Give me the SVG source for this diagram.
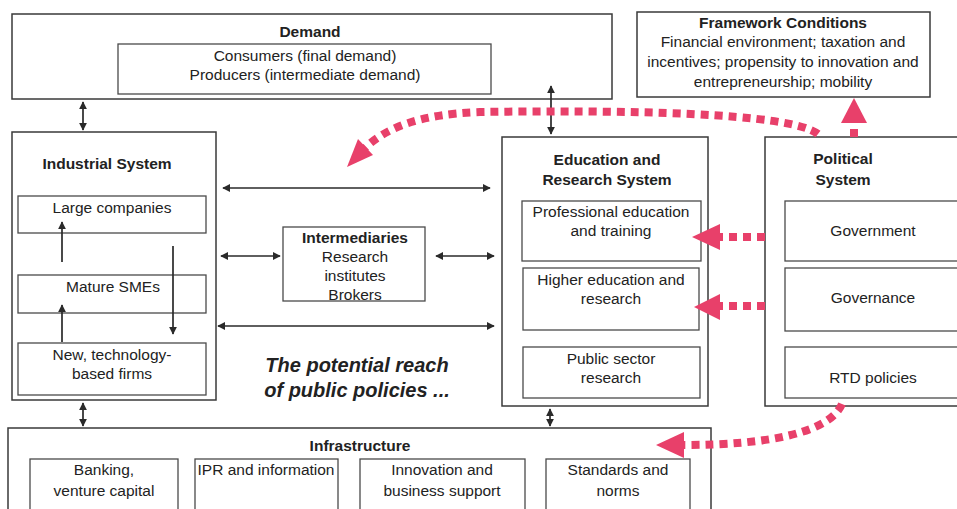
<svg xmlns="http://www.w3.org/2000/svg" width="957" height="509" viewBox="0 0 957 509">
  <style>
    .box { fill: #fff; stroke: #3a3a3a; stroke-width: 1.5; }
    .sub { fill: #fff; stroke: #4a4a4a; stroke-width: 1.3; }
    text { font-family: "Liberation Sans", Arial, sans-serif; font-size: 15.5px; fill: #222; text-anchor: middle; }
    .b { font-weight: bold; }
    .tag { font-weight: bold; font-style: italic; font-size: 20px; }
    .link { stroke: #2a2a2a; stroke-width: 1.7; fill: none; marker-start: url(#ah); marker-end: url(#ah); }
    .one { stroke: #2a2a2a; stroke-width: 1.7; fill: none; marker-end: url(#ah); }
    .pol { stroke: #e8406a; stroke-width: 8; fill: none; stroke-dasharray: 8 6; }
    .head { fill: #e8406a; }
  </style>
  <defs>
    <marker id="ah" viewBox="0 0 10 10" refX="9" refY="5" markerWidth="8" markerHeight="8" orient="auto-start-reverse" markerUnits="userSpaceOnUse">
      <path d="M0,0 L10,5 L0,10 z" fill="#2a2a2a"/>
    </marker>
  </defs>
  <rect width="957" height="509" fill="#fff"/>

  <g id="demand">
    <rect class="box" x="12" y="14" width="600" height="85"/>
    <text class="b" x="310" y="37">Demand</text>
    <rect class="sub" x="118" y="44" width="373" height="50"/>
    <text x="305" y="61">Consumers (final demand)</text>
    <text x="305" y="80">Producers (intermediate demand)</text>
  </g>

  <g id="framework">
    <rect class="box" x="637" y="12" width="293" height="85"/>
    <text class="b" x="783" y="28">Framework Conditions</text>
    <text x="783" y="47">Financial environment; taxation and</text>
    <text x="783" y="67">incentives; propensity to innovation and</text>
    <text x="783" y="87">entrepreneurship; mobility</text>
  </g>

  <g id="industrial">
    <rect class="box" x="12" y="132" width="204" height="268"/>
    <text class="b" x="107" y="169">Industrial System</text>
    <rect class="sub" x="18" y="196" width="188" height="37"/>
    <text x="112" y="213">Large companies</text>
    <rect class="sub" x="18" y="275" width="188" height="38"/>
    <text x="113" y="292">Mature SMEs</text>
    <rect class="sub" x="18" y="343" width="188" height="52"/>
    <text x="112" y="360">New, technology-</text>
    <text x="112" y="379">based firms</text>
  </g>

  <g id="intermediaries">
    <rect class="sub" x="283" y="227" width="142" height="74"/>
    <text class="b" x="355" y="243">Intermediaries</text>
    <text x="355" y="262">Research</text>
    <text x="355" y="281">institutes</text>
    <text x="355" y="300">Brokers</text>
  </g>

  <g id="education">
    <rect class="box" x="502" y="137" width="206" height="269"/>
    <text class="b" x="607" y="165">Education and</text>
    <text class="b" x="607" y="185">Research System</text>
    <rect class="sub" x="522" y="201" width="179" height="60"/>
    <text x="611" y="217">Professional education</text>
    <text x="611" y="236">and training</text>
    <rect class="sub" x="523" y="268" width="176" height="62"/>
    <text x="611" y="285">Higher education and</text>
    <text x="611" y="304">research</text>
    <rect class="sub" x="523" y="347" width="177" height="51"/>
    <text x="611" y="364">Public sector</text>
    <text x="611" y="383">research</text>
  </g>

  <g id="political">
    <rect class="box" x="765" y="137" width="200" height="269"/>
    <text class="b" x="843" y="164">Political</text>
    <text class="b" x="843" y="185">System</text>
    <rect class="sub" x="785" y="201" width="180" height="60"/>
    <text x="873" y="236">Government</text>
    <rect class="sub" x="785" y="268" width="180" height="63"/>
    <text x="873" y="303">Governance</text>
    <rect class="sub" x="785" y="347" width="180" height="51"/>
    <text x="873" y="383">RTD policies</text>
  </g>

  <g id="infrastructure">
    <rect class="box" x="8" y="428" width="703" height="90"/>
    <text class="b" x="360" y="451">Infrastructure</text>
    <rect class="sub" x="30" y="459" width="148" height="60"/>
    <text x="104" y="475">Banking,</text>
    <text x="104" y="496">venture capital</text>
    <rect class="sub" x="195" y="459" width="143" height="60"/>
    <text x="266" y="475">IPR and information</text>
    <rect class="sub" x="360" y="459" width="165" height="60"/>
    <text x="442" y="475">Innovation and</text>
    <text x="442" y="496">business support</text>
    <rect class="sub" x="546" y="459" width="144" height="60"/>
    <text x="618" y="475">Standards and</text>
    <text x="618" y="496">norms</text>
  </g>

  <text class="tag" x="357" y="372">The potential reach</text>
  <text class="tag" x="357" y="397">of public policies ...</text>

  <g id="connectors">
    <!-- two-way links between the systems -->
    <line class="link" x1="83" y1="102" x2="83" y2="130"/>
    <line class="link" x1="551" y1="86" x2="551" y2="134"/>
    <line class="link" x1="83" y1="403" x2="83" y2="426"/>
    <line class="link" x1="550" y1="409" x2="550" y2="426"/>
    <line class="link" x1="223" y1="188" x2="490" y2="188"/>
    <line class="link" x1="221" y1="256" x2="280" y2="256"/>
    <line class="link" x1="436" y1="256" x2="494" y2="256"/>
    <line class="link" x1="218" y1="326" x2="494" y2="326"/>
    <!-- growth paths inside the industrial system -->
    <line class="one" x1="62" y1="262" x2="62" y2="222"/>
    <line class="one" x1="62" y1="342" x2="62" y2="305"/>
    <line class="one" x1="173" y1="246" x2="173" y2="334"/>

    <!-- reach of public policies -->
    <path class="pol" d="M818 134 C790 112 620 110 480 112 C420 114 385 128 364 149"/>
    <polygon class="head" points="347,167 373,155 358,139"/>
    <path class="pol" d="M854 137 L854 121"/>
    <polygon class="head" points="854,98 841,123 867,123"/>
    <path class="pol" d="M765 237 L718 237"/>
    <polygon class="head" points="692,237 720,224 720,250"/>
    <path class="pol" d="M765 306 L718 306"/>
    <polygon class="head" points="694,307 720,294 720,320"/>
    <path class="pol" d="M842 404 C830 432 770 445 684 445"/>
    <polygon class="head" points="656,445 684,432 684,458"/>
  </g>
</svg>
